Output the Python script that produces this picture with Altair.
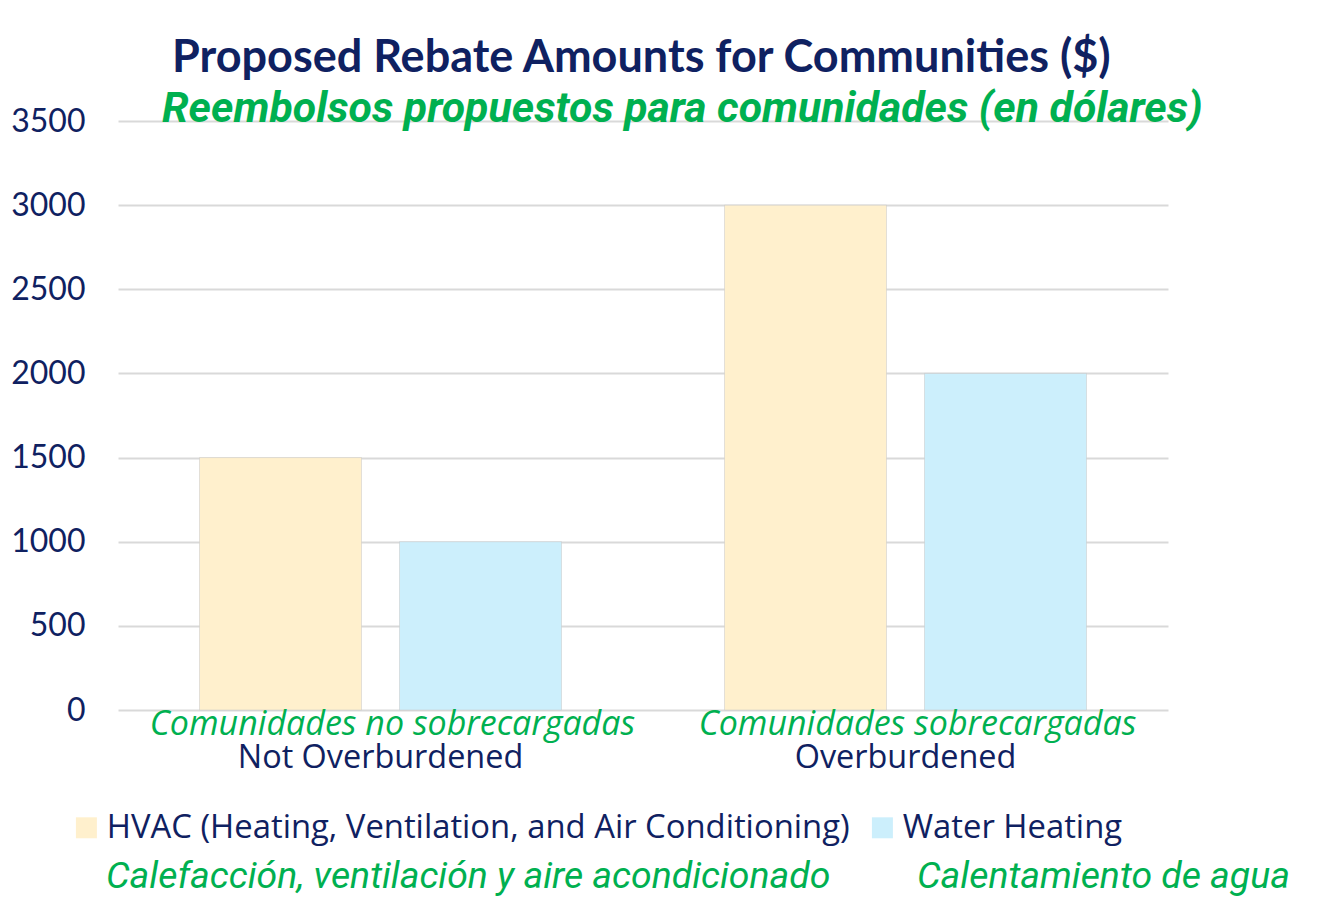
import altair as alt
import pandas as pd

# ---- data ----
categories_en = ["Not Overburdened", "Overburdened"]
categories_es = ["Comunidades no sobrecargadas", "Comunidades sobrecargadas"]
series_en = ["HVAC (Heating, Ventilation, and Air Conditioning)", "Water Heating"]
series_es = ["Calefacción, ventilación y aire acondicionado", "Calentamiento de agua"]
hvac_values = [1500, 3000]
water_values = [1000, 2000]
y_ticks = [0, 500, 1000, 1500, 2000, 2500, 3000, 3500]
title_en = "Proposed Rebate Amounts for Communities ($)"
title_es = "Reembolsos propuestos para comunidades (en dólares)"

NAVY = "#0F2161"
GREEN = "#00B050"
HVAC_COLOR = "#FFF0CD"
WATER_COLOR = "#CCEFFC"

rows = []
for i, cat in enumerate(categories_en):
    rows.append({"category": cat, "series": series_en[0], "value": hvac_values[i]})
    rows.append({"category": cat, "series": series_en[1], "value": water_values[i]})
bars_df = pd.DataFrame(rows)
cats_df = pd.DataFrame({"category": categories_en, "es": categories_es})

x_enc = alt.X("category:N", sort=categories_en,
              scale=alt.Scale(paddingInner=0, paddingOuter=0),
              axis=alt.Axis(labels=False, ticks=False, domain=False, title=None, grid=False))

bars = alt.Chart(bars_df).mark_bar(stroke="#C8C8C8", strokeWidth=1, strokeOpacity=0.5).encode(
    x=x_enc,
    xOffset=alt.XOffset("series:N", sort=series_en,
                        scale=alt.Scale(paddingInner=0.19, paddingOuter=0.4075)),
    y=alt.Y("value:Q", scale=alt.Scale(domain=[0, 3500], nice=False),
            axis=alt.Axis(values=y_ticks, format="d", title=None, ticks=False, domain=False,
                          labelFont="Lato", labelFontSize=32, labelColor=NAVY,
                          labelPadding=33, gridColor="#D9D9D9", gridWidth=2)),
    color=alt.Color("series:N", sort=series_en,
                    scale=alt.Scale(domain=series_en, range=[HVAC_COLOR, WATER_COLOR]),
                    legend=alt.Legend(orient="none", legendX=-48, legendY=690,
                                      direction="horizontal", title=None, padding=0,
                                      symbolType="square", symbolSize=440,
                                      symbolStrokeWidth=0, symbolOpacity=1,
                                      labelFont="Open Sans", labelFontSize=32.8,
                                      labelColor=NAVY, labelOffset=4,
                                      columnPadding=16, labelLimit=1000)),
)

cat_es = alt.Chart(cats_df).mark_text(
    font="Open Sans", fontStyle="italic", fontSize=34, color=GREEN, baseline="alphabetic", dx=12
).encode(x=alt.X("category:N", sort=categories_en), y=alt.value(614), text="es:N")

cat_en = alt.Chart(cats_df).mark_text(
    font="Open Sans", fontSize=32.4, color=NAVY, baseline="alphabetic"
).encode(x=alt.X("category:N", sort=categories_en), y=alt.value(647), text="category:N")

title1 = alt.Chart(alt.Data(values=[{"t": title_en}])).mark_text(
    font="Lato", fontWeight="bold", fontSize=45, color=NAVY, align="left", baseline="alphabetic"
).encode(x=alt.value(54), y=alt.value(-49), text="t:N")

title2 = alt.Chart(alt.Data(values=[{"t": title_es}])).mark_text(
    font="Roboto", fontWeight="bold", fontStyle="italic", fontSize=42.8, color=GREEN,
    align="left", baseline="alphabetic"
).encode(x=alt.value(44), y=alt.value(1), text="t:N")

leg_es1 = alt.Chart(alt.Data(values=[{"t": series_es[0]}])).mark_text(
    font="Roboto", fontStyle="italic", fontSize=37.4, color=GREEN, align="left", baseline="alphabetic"
).encode(x=alt.value(-12), y=alt.value(767), text="t:N")

leg_es2 = alt.Chart(alt.Data(values=[{"t": series_es[1]}])).mark_text(
    font="Roboto", fontStyle="italic", fontSize=37.4, color=GREEN, align="left", baseline="alphabetic"
).encode(x=alt.value(799), y=alt.value(767), text="t:N")

chart = alt.layer(bars, cat_es, cat_en, title1, title2, leg_es1, leg_es2).properties(
    width=1050, height=589,
    autosize=alt.AutoSizeParams(type="none"),
    padding={"left": 110, "top": 113, "right": 160, "bottom": 187},
).configure(background="white").configure_view(stroke=None)

chart.save("out.html", embed_options={"renderer": "svg", "actions": False})
